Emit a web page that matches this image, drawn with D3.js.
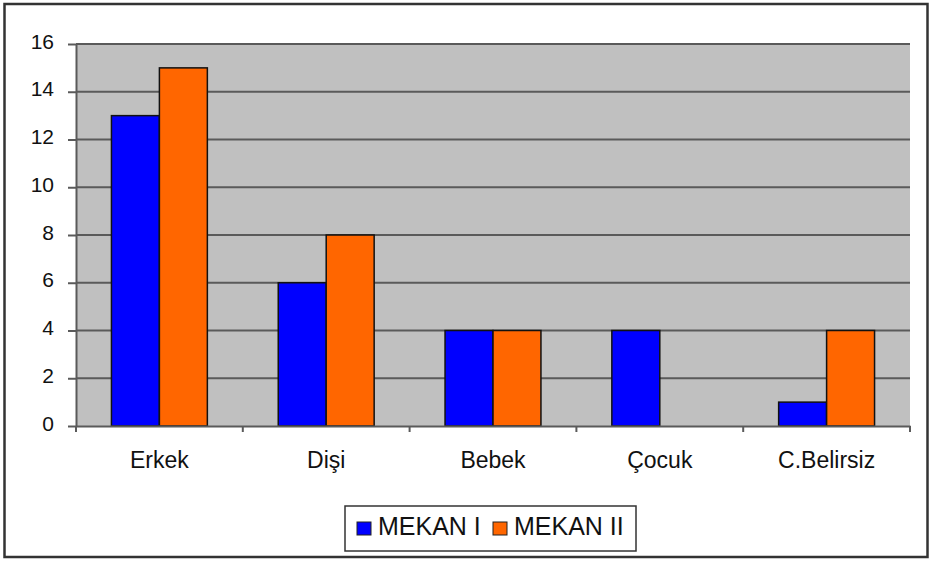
<!DOCTYPE html>
<html>
<head>
<meta charset="utf-8">
<script src="https://cdn.jsdelivr.net/npm/d3@7"></script>
<style>
  body { margin: 0; background: #fff; }
  text { font-family: "Liberation Sans", Arial, sans-serif; fill: #111; }
</style>
</head>
<body>
<svg id="chart"></svg>
<script>
// data
const categories = ['Erkek', 'Dişi', 'Bebek', 'Çocuk', 'C.Belirsiz'];
const seriesNames = ['MEKAN I', 'MEKAN II'];
const mekan1 = [13, 6, 4, 4, 1];
const mekan2 = [15, 8, 4, 0, 4];
const yTicks = [0, 2, 4, 6, 8, 10, 12, 14, 16];
const colors = ['#0000ff', '#ff6600'];

const width = 932, height = 561;
const margin = {top: 44, right: 22, bottom: 135, left: 76};
const innerW = width - margin.left - margin.right;
const innerH = height - margin.top - margin.bottom;

const svg = d3.select('#chart')
    .attr('width', width)
    .attr('height', height);

// outer frame
svg.append('rect')
    .attr('x', 4.5).attr('y', 4)
    .attr('width', 923).attr('height', 553)
    .attr('fill', '#fff')
    .attr('stroke', '#333')
    .attr('stroke-width', 2.5);

const chart = svg.append('g')
    .attr('transform', `translate(${margin.left},${margin.top})`);

const xScale = d3.scaleBand()
    .domain(categories)
    .range([0, innerW]);

const xInner = d3.scaleBand()
    .domain(seriesNames)
    .range([0, xScale.bandwidth() * 0.575])
    .padding(0);

const yScale = d3.scaleLinear()
    .domain([0, 16])
    .range([innerH, 0]);

// plot background
chart.append('rect')
    .attr('width', innerW)
    .attr('height', innerH)
    .attr('fill', '#c0c0c0');

// gridlines
chart.append('g')
  .selectAll('line')
  .data(yTicks.filter(d => d > 0))
  .join('line')
    .attr('x1', 0).attr('x2', innerW)
    .attr('y1', d => yScale(d)).attr('y2', d => yScale(d))
    .attr('stroke', '#5a5a5a')
    .attr('stroke-width', 2);

// bars
const rows = categories.map((c, i) => ({cat: c, vals: [mekan1[i], mekan2[i]]}));
const groupOffset = (xScale.bandwidth() - xInner.range()[1]) / 2;

const groups = chart.selectAll('.grp')
    .data(rows)
  .join('g')
    .attr('class', 'grp')
    .attr('transform', d => `translate(${xScale(d.cat) + groupOffset},0)`);

groups.selectAll('rect')
    .data(d => d.vals.map((v, j) => ({name: seriesNames[j], value: v, j: j})).filter(e => e.value > 0))
  .join('rect')
    .attr('x', d => xInner(d.name))
    .attr('y', d => yScale(d.value))
    .attr('width', xInner.bandwidth())
    .attr('height', d => innerH - yScale(d.value))
    .attr('fill', d => colors[d.j])
    .attr('stroke', '#111')
    .attr('stroke-width', 1.5);

// y axis
const yAxis = d3.axisLeft(yScale)
    .tickValues(yTicks)
    .tickSize(8)
    .tickPadding(14)
    .tickSizeOuter(0);

const yAxisG = chart.append('g').call(yAxis);
yAxisG.select('.domain').attr('stroke', '#5a5a5a').attr('stroke-width', 2);
yAxisG.selectAll('.tick line').attr('stroke', '#5a5a5a').attr('stroke-width', 2);
yAxisG.selectAll('text')
    .attr('font-size', 21)
    .attr('dy', '0.2em')
    .attr('fill', '#111');

// x axis
const xAxis = d3.axisBottom(xScale)
    .tickSize(0)
    .tickPadding(26);

const xAxisG = chart.append('g')
    .attr('transform', `translate(0,${innerH})`)
    .call(xAxis);
xAxisG.select('.domain').attr('stroke', '#5a5a5a').attr('stroke-width', 2);
xAxisG.selectAll('text').attr('font-size', 23).attr('fill', '#111');

// category separator ticks
chart.append('g')
  .selectAll('line')
  .data(d3.range(categories.length + 1))
  .join('line')
    .attr('x1', i => i * xScale.step()).attr('x2', i => i * xScale.step())
    .attr('y1', innerH).attr('y2', innerH + 6)
    .attr('stroke', '#5a5a5a')
    .attr('stroke-width', 2);

// legend
const legend = svg.append('g').attr('transform', 'translate(345,506)');
legend.append('rect')
    .attr('width', 291).attr('height', 45)
    .attr('fill', '#fff')
    .attr('stroke', '#333')
    .attr('stroke-width', 1.5);

const legendX = [12, 148];
seriesNames.forEach((s, i) => {
  legend.append('rect')
      .attr('x', legendX[i]).attr('y', 16)
      .attr('width', 14).attr('height', 13)
      .attr('fill', colors[i])
      .attr('stroke', '#222')
      .attr('stroke-width', 1);
  legend.append('text')
      .attr('x', legendX[i] + 21).attr('y', 29)
      .attr('font-size', 25)
      .text(s);
});
</script>
</body>
</html>
